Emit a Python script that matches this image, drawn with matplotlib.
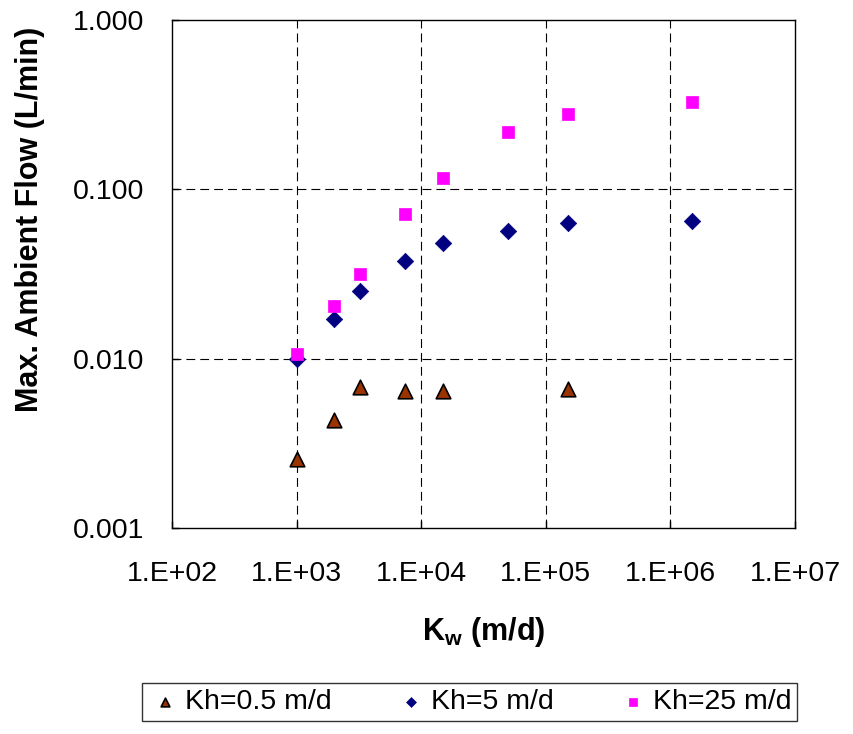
import matplotlib
matplotlib.use('Agg')
import numpy as np
from matplotlib import pyplot as plt
from matplotlib.ticker import FuncFormatter, FixedLocator, NullLocator

plt.rcParams['font.family'] = ['Liberation Sans', 'DejaVu Sans']
plt.rcParams['mathtext.fontset'] = 'custom'
plt.rcParams['mathtext.rm'] = 'Liberation Sans'
plt.rcParams['mathtext.bf'] = 'Liberation Sans:bold'
plt.rcParams['mathtext.it'] = 'Liberation Sans:italic'

# Kh = 0.5 m/d
kw_05 = [1000, 2000, 3200, 7400, 15000, 150000]
q_05 = [0.00255, 0.00433, 0.0068, 0.00644, 0.0064, 0.0066]

# Kh = 5 m/d
kw_5 = [1000, 2000, 3200, 7400, 15000, 50000, 150000, 1500000]
q_5 = [0.0100, 0.0171, 0.0251, 0.0377, 0.048, 0.0567, 0.063, 0.065]

# Kh = 25 m/d
kw_25 = [1000, 2000, 3200, 7400, 15000, 50000, 150000, 1500000]
q_25 = [0.0106, 0.0205, 0.0316, 0.0715, 0.117, 0.218, 0.279, 0.328]

x_ticks = [1e2, 1e3, 1e4, 1e5, 1e6, 1e7]
y_ticks = [0.001, 0.01, 0.1, 1.0]

fig = plt.figure(figsize=(8.54, 7.34), dpi=100)
ax = fig.add_axes([0.2014, 0.2807, 0.7296, 0.6921])

ax.scatter(kw_05, q_05, marker='^', s=110, c='#993300', edgecolors='black',
           linewidths=1.2, label='Kh=0.5 m/d', zorder=3)
ax.scatter(kw_5, q_5, marker='D', s=70, c='#000080', edgecolors='#000080',
           linewidths=0.5, label='Kh=5 m/d', zorder=3)
ax.scatter(kw_25, q_25, marker='s', s=85, c='#FF00FF', edgecolors='#FF00FF',
           linewidths=0.5, label='Kh=25 m/d', zorder=3)

ax.set_xscale('log')
ax.set_yscale('log')
ax.set_xlim(1e2, 1e7)
ax.set_ylim(0.001, 1.0)

ax.xaxis.set_major_locator(FixedLocator(x_ticks))
ax.yaxis.set_major_locator(FixedLocator(y_ticks))
ax.xaxis.set_minor_locator(NullLocator())
ax.yaxis.set_minor_locator(NullLocator())
ax.xaxis.set_major_formatter(FuncFormatter(lambda v, p: '1.E+%02d' % int(round(np.log10(v)))))
ax.yaxis.set_major_formatter(FuncFormatter(lambda v, p: '%.3f' % v))
ax.tick_params(direction='in', length=5, width=1, labelsize=20.5)
ax.tick_params(axis='y', pad=20)
ax.tick_params(axis='x', pad=24)

for s in ax.spines.values():
    s.set_linewidth(1.0)

for xv in x_ticks[1:-1]:
    ax.axvline(xv, color='black', linestyle=(0, (8, 4.5)), linewidth=0.8, zorder=1)
for yv in y_ticks[1:-1]:
    ax.axhline(yv, color='black', linestyle=(0, (8, 4.5)), linewidth=0.8, zorder=1)

ax.set_ylabel('Max. Ambient Flow (L/min)', fontsize=22, fontweight='bold', va='center')
ax.yaxis.set_label_coords(-0.228, 0.608)
ax.set_xlabel(r'$\mathbf{K_w}$ (m/d)', fontsize=22, fontweight='bold', va='center')
ax.xaxis.set_label_coords(0.5, -0.205)

leg = fig.legend(loc='center', bbox_to_anchor=(0.55, 0.0436), ncol=3, fontsize=20.5,
                 frameon=True, fancybox=False, edgecolor='black', markerscale=0.6,
                 handletextpad=0.1, columnspacing=2.2, borderpad=0.2, handlelength=1.2)
leg.get_frame().set_linewidth(1.0)

fig.savefig('out.png', dpi=100)
